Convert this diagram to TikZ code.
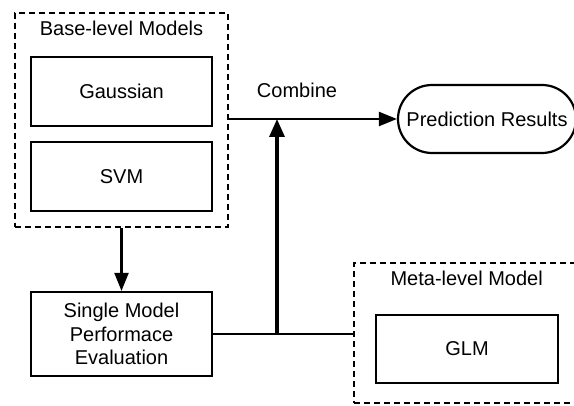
\documentclass[tikz,border=0pt]{standalone}
\usepackage{fontspec}
\setmainfont{Liberation Sans}
\usetikzlibrary{arrows.meta,shapes.misc}
\begin{document}
\begin{tikzpicture}[x=1pt,y=-1pt,
  every node/.style={inner sep=0pt,font=\fontsize{20}{23.3}\selectfont},
  model/.style={draw,line width=2.2pt,minimum width=181pt,minimum height=69pt,align=center},
  group/.style={draw,line width=2pt,dash pattern=on 6pt off 4pt},
  terminal/.style={draw,line width=2.2pt,rounded rectangle,minimum width=178pt,minimum height=68pt},
  flow/.style={line width=2.2pt,-{Triangle[length=18pt,width=14pt]}},
  mainflow/.style={line width=3.2pt,-{Triangle[length=18pt,width=15pt]}},
  link/.style={line width=2.2pt}]
\useasboundingbox (0,0) rectangle (574,406);

% base-level group
\node[group,minimum width=213pt,minimum height=214pt] (base) at (121.5,120) {};
\node (baselabel) at (121.5,28) {Base-level Models};
\node[model] (gauss) at (121.5,91.5) {Gaussian};
\node[model] (svm) at (121.5,176.5) {SVM};

% evaluation
\node[model,minimum height=84pt] (single) at (121.5,334) {Single Model\\Performace\\Evaluation};

% meta-level group
\node[group,minimum width=246pt,minimum height=140pt] (meta) at (477,333) {};
\node (metalabel) at (466.7,278) {Meta-level Model};
\node[model,minimum width=182pt,minimum height=68pt] (glm) at (467,349) {GLM};

% output
\node[terminal] (pred) at (487,119) {Prediction Results};
\node (combine) at (297,90) {Combine};

% connectors
\coordinate (j) at (277,334);
\draw[flow] (base.south) -- (single.north);
\draw[flow] (base.east |- pred.west) -- (pred.west);
\draw[link] (single.east) -- (single.east -| meta.west);
\draw[mainflow] (j) -- (j |- pred.west);
\end{tikzpicture}
\end{document}
